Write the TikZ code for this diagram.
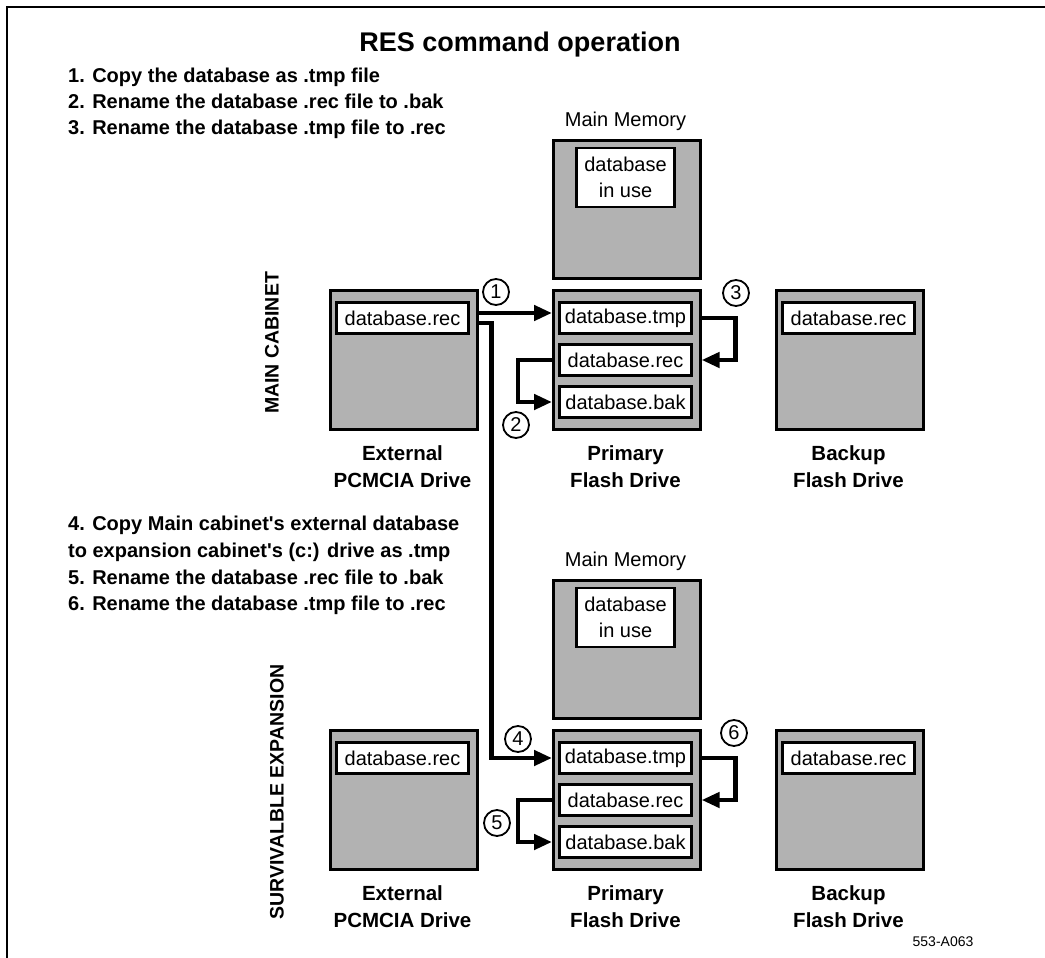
\documentclass[tikz,border=0pt]{standalone}
\usepackage{fontspec}
\setmainfont{Liberation Sans}
\usetikzlibrary{arrows.meta,calc}
\begin{document}
\begin{tikzpicture}[x=1pt,y=-1pt,
  drive/.style={draw,line width=2.6pt,fill=black!30,minimum width=147pt,minimum height=139pt,inner sep=0pt,anchor=north west},
  membox/.style={draw,line width=2.6pt,fill=black!30,minimum width=147pt,minimum height=138pt,inner sep=0pt,anchor=north west},
  file/.style={draw,line width=2.6pt,fill=white,minimum width=132pt,minimum height=31pt,inner sep=0pt,font=\fontsize{20}{24}\selectfont},
  memfile/.style={draw,line width=2.6pt,fill=white,minimum width=98pt,minimum height=59pt,inner sep=0pt,align=center,font=\fontsize{20}{26}\selectfont},
  lbl/.style={align=center,font=\bfseries\fontsize{20.5}{27}\selectfont},
  memlbl/.style={font=\fontsize{20}{24}\selectfont},
  steptext/.style={anchor=base west,inner sep=0pt,font=\bfseries\fontsize{20}{26}\selectfont},
  sidelbl/.style={rotate=90,font=\bfseries\fontsize{19.5}{24}\selectfont},
  num/.style={circle,draw,line width=1.8pt,minimum size=26pt,inner sep=0pt,font=\fontsize{20}{20}\selectfont},
  conn/.style={line width=4.5pt,-{Triangle[length=18pt,width=15pt]}},
  framelin/.style={line width=2.5pt}
]
\useasboundingbox (0,0) rectangle (1045,958);
\draw[framelin] (7,958) -- (7,7) -- (1045,7);

\node[font=\bfseries\fontsize{27}{32}\selectfont] (title) at (520,45) {RES command operation};

% step list 1
\node[steptext] (l1) at (68,82) {1. Copy the database as .tmp file};
\node[steptext] (l2) at (68,108) {2. Rename the database .rec file to .bak};
\node[steptext] (l3) at (68,134) {3. Rename the database .tmp file to .rec};

% step list 2
\node[steptext] (l4) at (68,530) {4. Copy Main cabinet\textquotesingle s external database};
\node[steptext] (l4b) at (68,557) {to expansion cabinet\textquotesingle s (c:) drive as .tmp};
\node[steptext] (l5) at (68,584) {5. Rename the database .rec file to .bak};
\node[steptext] (l6) at (68,610) {6. Rename the database .tmp file to .rec};

% ---------- section 1 ----------
\node[memlbl] (mml1) at (625.5,121) {Main Memory};
\node[membox] (mem1) at (552,139) {};
\node[memfile] (mf1) at (625.5,177.5) {database\\in use};

\node[drive] (ext1) at (329,289) {};
\node[drive] (pri1) at (552,289) {};
\node[drive] (bku1) at (775,289) {};
\node[file] (ext1f) at (402.5,318) {database.rec};
\node[file] (tmp1) at (625.5,318) {database.tmp};
\node[file] (rec1) at (625.5,360) {database.rec};
\node[file] (bak1) at (625.5,402) {database.bak};
\node[file] (bku1f) at (848.5,318) {database.rec};

\node[lbl] (ext1l) at (402.5,466.5) {External\\PCMCIA Drive};
\node[lbl] (pri1l) at (625.5,466.5) {Primary\\Flash Drive};
\node[lbl] (bku1l) at (848.5,466.5) {Backup\\Flash Drive};
\node[sidelbl] (side1) at (272,343) {MAIN CABINET};

\node[num] (n1) at (496,292) {1};
\node[num] (n2) at (516,425) {2};
\node[num] (n3) at (736,293) {3};

% ---------- section 2 ----------
\node[memlbl] (mml2) at (625.5,561) {Main Memory};
\node[membox] (mem2) at (552,579) {};
\node[memfile] (mf2) at (625.5,617.5) {database\\in use};

\node[drive] (ext2) at (329,729) {};
\node[drive] (pri2) at (552,729) {};
\node[drive] (bku2) at (775,729) {};
\node[file] (ext2f) at (402.5,758) {database.rec};
\node[file] (tmp2) at (625.5,758) {database.tmp};
\node[file] (rec2) at (625.5,800) {database.rec};
\node[file] (bak2) at (625.5,842) {database.bak};
\node[file] (bku2f) at (848.5,758) {database.rec};

\node[lbl] (ext2l) at (402.5,906.5) {External\\PCMCIA Drive};
\node[lbl] (pri2l) at (625.5,906.5) {Primary\\Flash Drive};
\node[lbl] (bku2l) at (848.5,906.5) {Backup\\Flash Drive};
\node[sidelbl] (side2) at (277,792) {SURVIVALBLE EXPANSION};

\node[num] (n4) at (518,739) {4};
\node[num] (n5) at (497,823) {5};
\node[num] (n6) at (734,733) {6};

% ---------- connectors ----------
\coordinate (s1) at ($(ext1.east|-ext1f.center)+(0,-5)$);
\coordinate (s4) at ($(ext1.east|-ext1f.center)+(0,5)$);
\coordinate (j) at ($(s4)+(13,0)$);
\draw[conn] (s1) -- (pri1.west|-s1);
\draw[conn] (s4) -- (j) |- (pri2.west|-tmp2.center);
\draw[conn] (pri1.east|-tmp1.center) -- ++(34,0) |- (pri1.east|-rec1.center);
\draw[conn] (pri1.west|-rec1.center) -- ++(-34,0) |- (pri1.west|-bak1.center);
\draw[conn] (pri2.east|-tmp2.center) -- ++(34,0) |- (pri2.east|-rec2.center);
\draw[conn] (pri2.west|-rec2.center) -- ++(-34,0) |- (pri2.west|-bak2.center);

\node[font=\fontsize{14}{16}\selectfont] (code) at (943,942) {553-A063};
\end{tikzpicture}
\end{document}
